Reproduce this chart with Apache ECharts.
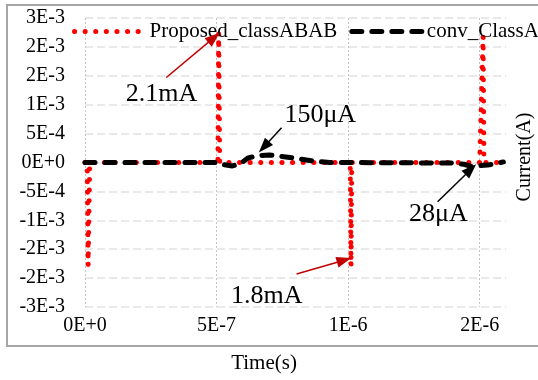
<!DOCTYPE html>
<html><head><meta charset="utf-8">
<script src="https://cdn.jsdelivr.net/npm/echarts@6/dist/echarts.min.js"></script>
<style>html,body{margin:0;padding:0;background:#fff}#c{width:538px;height:380px}</style>
</head><body><div id="c"></div>
<script>
// ---- data ----
const seriesNames = ['Proposed_classABAB', 'conv_ClassA'];
// time in microseconds (converted to seconds below), current in A
const tProposedUs = [0, 0.008, 0.012, 0.018, 0.505, 0.508, 0.512, 1.008, 1.011, 1.014, 1.500, 1.513, 1.516, 1.59];
const iProposed   = [0, 0, -1.78e-3, 0, 0, 2.24e-3, 0, 0, -1.79e-3, 0, 0, 2.18e-3, 0, 0];
const tConvUs = [0, 0.512, 0.53, 0.56, 0.59, 0.62, 0.66, 0.70, 0.74, 0.79, 0.86, 0.93, 1.0, 1.2, 1.40, 1.44, 1.47, 1.50, 1.53, 1.56, 1.59];
const iConvUA = [0, 0, -40, -60, -20, 80, 120, 130, 110, 80, 30, 0, 0, -5, -10, -30, -70, -55, -45, -20, 10];
const yTickLabels = ['-3E-3','-2E-3','-2E-3','-1E-3','-5E-4','0E+0','5E-4','1E-3','2E-3','2E-3','3E-3'];
const xTickLabels = ['0E+0','5E-7','1E-6','2E-6'];
// annotations: text, text position (us, A), arrow from (us, A) to (us, A), colour
const annText  = ['2.1mA', '150μA', '1.8mA', '28μA'];
const annTextT = [0.291, 0.894, 0.691, 1.343];
const annTextV = [1.19e-3, 0.82e-3, -2.31e-3, -0.89e-3];
const annFromT = [0.309, 0.747, 0.804, 1.340];
const annFromV = [1.47e-3, 0.60e-3, -1.93e-3, -0.68e-3];
const annToT   = [0.490, 0.680, 0.985, 1.466];
const annToV   = [2.16e-3, 0.27e-3, -1.69e-3, -0.12e-3];
const annColor = ['#c00000', '#000000', '#c00000', '#000000'];

// ---- build ----
const FONT = "'Liberation Serif','Times New Roman',serif";
const proposed = tProposedUs.map((t, i) => [t * 1e-6, iProposed[i]]);
const conv = tConvUs.map((t, i) => [t * 1e-6, iConvUA[i] * 1e-6]);
const GRIDV = '#c4c4c4', NONE = 'rgba(0,0,0,0)';

const chart = echarts.init(document.getElementById('c'), null, {renderer: 'canvas'});
chart.setOption({
  animation: false,
  backgroundColor: '#fff',
  textStyle: {fontFamily: FONT, color: '#000'},
  graphic: [{
    type: 'rect', z: -10, silent: true,
    shape: {x: 7, y: 5, width: 560, height: 341},
    style: {fill: 'none', stroke: '#a6a6a6', lineWidth: 2}
  }],
  legend: {
    data: seriesNames,
    left: 67, top: 16, width: 800, orient: 'horizontal',
    itemWidth: 70, itemHeight: 20, itemGap: 12,
    itemStyle: {opacity: 0},
    lineStyle: {width: 5, cap: 'round'},
    textStyle: {fontFamily: FONT, fontSize: 21, color: '#000'}
  },
  grid: {left: 85, right: 32, top: 18, bottom: 73, containLabel: false, outerBoundsMode: 'none'},
  xAxis: {
    type: 'value', min: 0, max: 1.6e-6, interval: 1e-7,
    name: 'Time(s)', nameLocation: 'middle', nameGap: 46,
    nameTextStyle: {fontFamily: FONT, fontSize: 21, color: '#000', padding: [0, 63, 0, 0]},
    axisLine: {show: false}, axisTick: {show: false},
    axisLabel: {
      fontFamily: FONT, fontSize: 20, color: '#000', margin: 9, showMaxLabel: false,
      formatter: v => { const k = v / 5e-7, r = Math.round(k); return Math.abs(k - r) < 1e-6 ? (xTickLabels[r] || '') : ''; }
    },
    splitLine: {show: true, lineStyle: {color: [GRIDV, NONE, NONE, NONE, NONE], width: 1, type: [2, 2]}}
  },
  yAxis: [{
    type: 'value', min: -2.5e-3, max: 2.5e-3, interval: 5e-4,
    axisLine: {show: false}, axisTick: {show: false},
    axisLabel: {
      fontFamily: FONT, fontSize: 20, color: '#000', margin: 20,
      formatter: v => yTickLabels[Math.round(v / 5e-4) + 5] || ''
    },
    splitLine: {show: true, lineStyle: {color: '#e2e2e2', width: 1.5, type: [8, 4]}}
  }, {
    type: 'value', min: -2.5e-3, max: 2.5e-3, interval: 5e-4, position: 'right',
    name: 'Current(A)', nameLocation: 'middle', nameGap: 9, nameRotate: 90,
    nameTextStyle: {fontFamily: FONT, fontSize: 20, color: '#000', padding: [0, 0, 0, 11]},
    axisLine: {show: false}, axisTick: {show: false}, axisLabel: {show: false}, splitLine: {show: false}
  }],
  series: [{
    name: seriesNames[0], type: 'line', data: proposed, showSymbol: false, symbol: 'none', z: 2,
    itemStyle: {color: '#ff0000'},
    lineStyle: {color: '#ff0000', width: 5, type: [0.1, 10.5], cap: 'round', join: 'round'}
  }, {
    name: seriesNames[1], type: 'line', data: conv, showSymbol: false, symbol: 'none', z: 3,
    itemStyle: {color: '#000000'},
    lineStyle: {color: '#000000', width: 5, type: [10, 10], cap: 'round', join: 'round'}
  }, {
    name: 'annotations', type: 'line', data: [], z: 5, silent: true,
    markLine: {
      silent: true, animation: false,
      symbol: ['none', 'triangle'], symbolSize: [11, 15],
      label: {show: false},
      data: annText.map((_, i) => [
        {coord: [annFromT[i] * 1e-6, annFromV[i]], lineStyle: {color: annColor[i], width: 1.5, type: 'solid'}, itemStyle: {color: annColor[i]}},
        {coord: [annToT[i] * 1e-6, annToV[i]], itemStyle: {color: annColor[i]}}
      ])
    },
    markPoint: {
      silent: true, animation: false,
      symbol: 'rect', symbolSize: 1,
      itemStyle: {color: 'rgba(0,0,0,0)'},
      label: {show: true, position: 'inside', fontFamily: FONT, fontSize: 26, color: '#000', formatter: p => p.name},
      data: annText.map((s, i) => ({name: s, coord: [annTextT[i] * 1e-6, annTextV[i]]}))
    }
  }]
});
</script>
</body></html>
